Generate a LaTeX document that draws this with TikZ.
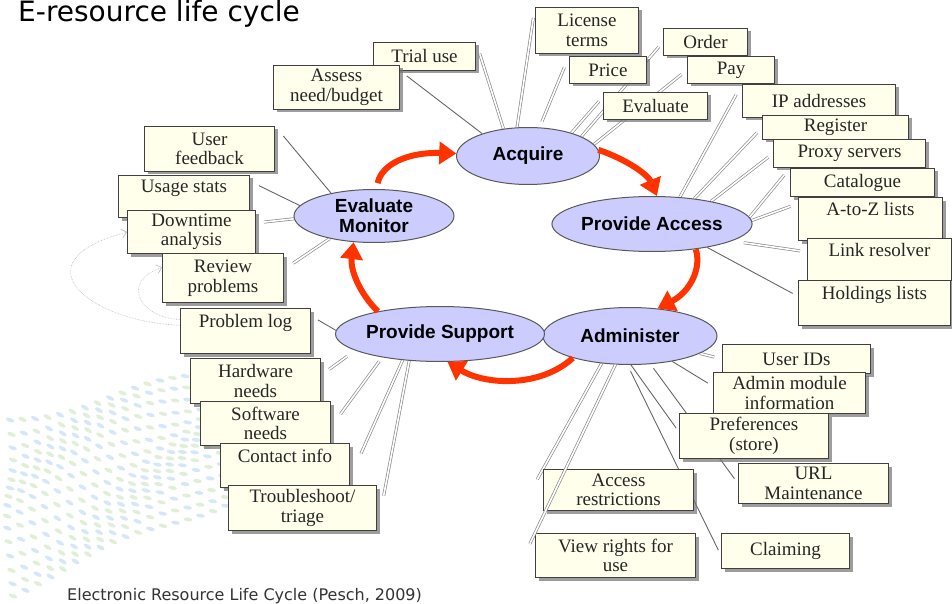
\documentclass[tikz,border=0pt]{standalone}
\usepackage{fontspec}
\setmainfont{Liberation Serif}
\newfontfamily\phasefont{Liberation Sans}
\newfontfamily\titlefont{DejaVu Sans}
\usetikzlibrary{positioning,shapes.geometric,arrows.meta,shadows,backgrounds}

\definecolor{boxfill}{RGB}{255,255,236}
\definecolor{phasefill}{RGB}{204,204,255}
\definecolor{cyclered}{RGB}{255,51,0}
\definecolor{dot0}{RGB}{214,232,247}
\definecolor{dot1}{RGB}{226,239,216}

\begin{document}
\begin{tikzpicture}[
    x=1pt, y=-1pt,
    phase/.style={ellipse, draw=black!65, fill=phasefill, line width=1pt, inner sep=0pt, align=center, font=\phasefont\bfseries\fontsize{19}{20}\selectfont},
    ebox/.style={rectangle, draw=black!75, fill=boxfill, line width=1pt, inner sep=1pt, align=center, anchor=north west, text=black!85, font=\fontsize{19}{19.5}\selectfont, drop shadow={shadow xshift=3pt, shadow yshift=-3pt, fill=black!55, opacity=.7}},
    spoke/.style={draw=black!60, line width=0.9pt},
    dspoke/.style={draw=black!45, line width=0.7pt, double=white, double distance=1.6pt},
    cyclearrow/.style={draw=cyclered, line width=6pt, -{Triangle[length=17pt,width=22pt]}},
    note/.style={draw=gray!55, line width=0.6pt, densely dotted, -{Straight Barb[length=5pt,width=9pt]}},
]
\useasboundingbox (0,0) rectangle (952,604);
\clip (0,0) rectangle (952,604);

% Title and source
\node[anchor=base west, inner sep=0pt, font=\titlefont\fontsize{28}{30}\selectfont] (title) at (18,21.5) {E-resource life cycle};
\node[anchor=base west, inner sep=0pt, font=\titlefont\fontsize{16}{17}\selectfont, text=black!80] (source) at (67,600) {Electronic Resource Life Cycle (Pesch, 2009)};

% The cycle
\node[phase, minimum width=143pt, minimum height=57pt] (acq) at (528,156) {Acquire};
\node[phase, minimum width=165pt, minimum height=55pt] (pacc) at (652,224) {Provide Access};
\node[phase, minimum width=174pt, minimum height=57pt] (adm) at (630,336) {Administer};
\node[phase, minimum width=170pt, minimum height=55pt] (psup) at (440,334) {Provide Support};
\node[phase, minimum width=160pt, minimum height=53pt] (evm) at (374,216) {Evaluate\\Monitor};

% Acquire tasks
\node[ebox, minimum width=102pt, minimum height=28pt] (trial) at (373,42) {Trial use};
\node[ebox, minimum width=126pt, minimum height=44pt] (assess) at (273,65) {Assess\\need/budget};
\node[ebox, minimum width=103pt, minimum height=46pt] (lic) at (535,7) {License\\terms};
\node[ebox, minimum width=77pt, minimum height=27pt] (price) at (569,56) {Price};
\node[ebox, minimum width=104pt, minimum height=27pt] (evb) at (603,92) {Evaluate};
\node[ebox, minimum width=84pt, minimum height=27pt] (order) at (663,28) {Order};
\node[ebox, minimum width=87pt, minimum height=27pt] (pay) at (687,56) {Pay};

% Access tasks
\node[ebox, minimum width=153pt, minimum height=33pt] (ip) at (742,84) {IP addresses};
\node[ebox, minimum width=146pt, minimum height=24pt] (reg) at (762,115) {Register};
\node[ebox, minimum width=152pt, minimum height=28pt] (proxy) at (773,139) {Proxy servers};
\node[ebox, minimum width=144pt, minimum height=28pt] (cat) at (790,168) {Catalogue};
\node[ebox, minimum width=144pt, minimum height=43pt] (atoz) at (798,197) {A-to-Z lists\\~};
\node[ebox, minimum width=144pt, minimum height=42pt] (link) at (807,238) {Link resolver\\~};
\node[ebox, minimum width=152pt, minimum height=45pt] (hold) at (798,280) {Holdings lists\\~};

% Evaluation tasks
\node[ebox, minimum width=130pt, minimum height=45pt] (uf) at (144,126) {User\\feedback};
\node[ebox, minimum width=131pt, minimum height=42pt] (us) at (118,175) {Usage stats\\~};
\node[ebox, minimum width=128pt, minimum height=43pt] (dt) at (127,210) {Downtime\\analysis};
\node[ebox, minimum width=121pt, minimum height=49pt] (rv) at (162,253) {Review\\problems};

% Support tasks
\node[ebox, minimum width=130pt, minimum height=45pt] (plog) at (180,308) {Problem log\\~};
\node[ebox, minimum width=130pt, minimum height=45pt] (hw) at (190,358) {Hardware\\needs};
\node[ebox, minimum width=130pt, minimum height=44pt] (sw) at (200,401) {Software\\needs};
\node[ebox, minimum width=129pt, minimum height=44pt] (ci) at (220,443) {Contact info\\~};
\node[ebox, minimum width=148pt, minimum height=45pt] (tr) at (228,485) {Troubleshoot/\\triage};

% Administration tasks
\node[ebox, minimum width=148pt, minimum height=29pt] (uid) at (722,344) {User IDs};
\node[ebox, minimum width=152pt, minimum height=41pt] (amod) at (713,372) {Admin module\\information};
\node[ebox, minimum width=149pt, minimum height=45pt] (pref) at (679,413) {Preferences\\(store)};
\node[ebox, minimum width=150pt, minimum height=40pt] (url) at (738,463) {URL\\Maintenance};
\node[ebox, minimum width=150pt, minimum height=41pt] (acc) at (543,469) {Access\\restrictions};
\node[ebox, minimum width=160pt, minimum height=44pt] (vr) at (535,533) {View rights for\\use};
\node[ebox, minimum width=128pt, minimum height=35pt] (claim) at (721,533) {Claiming};

\begin{pgfonlayer}{background}
% faint backdrop
\foreach \j in {0,...,19}{
  \foreach \i in {0,...,15}{
    \pgfmathsetmacro{\px}{10+\j*12.5+3*sin(\i*30)}
    \pgfmathsetmacro{\py}{420-\j*2.8+\i*(170-\j*2.5)/15+6*sin(\i*30+\j*22)}
    \pgfmathtruncatemacro{\k}{mod(\i+\j,2)}
    \fill[dot\k, rotate around={-20-12*sin(\j*18):(\px,\py)}] (\px,\py) ellipse (4.5pt and 2pt);
  }
}

% Acquire spokes
\draw[spoke, shorten >=8pt] (acq.154) -- (trial.-149);
\draw[dspoke, shorten >=12pt] (acq.132) -- (trial.north east);
\draw[dspoke, shorten >=11pt] (acq.111) -- (lic.north west);
\draw[dspoke, shorten <=6pt, shorten >=12pt] (acq.68) -- (price.north west);
\draw[dspoke, shorten >=6pt] (acq.28) -- (evb.170);
\draw[dspoke, shorten >=6pt] (acq.20) -- (order.west);
\draw[dspoke, shorten >=7pt] (acq.10) -- (pay.west);

% Access spokes
\draw[dspoke, shorten >=12pt] (pacc.44) -- (ip.north west);
\draw[dspoke, shorten >=7pt] (pacc.31) -- (reg.west);
\draw[dspoke, shorten >=6pt] (pacc.21) -- (proxy.west);
\draw[dspoke, shorten >=9pt] (pacc.4) -- (cat.north west);
\draw[dspoke, shorten >=8pt] (pacc.2) -- (atoz.168);
\draw[dspoke, shorten <=12pt, shorten >=7pt] (pacc.-12) -- (link.174);
\draw[spoke, shorten >=6pt] (pacc.-23) -- (hold.175);

% Administer spokes
\draw[dspoke, shorten >=8pt] (adm.-14) -- (uid.west);
\draw[spoke, shorten >=6pt] (adm.-31) -- (amod.175);
\draw[spoke, shorten >=5pt] (adm.-88) -- (pref.177);
\draw[spoke, shorten <=5pt, shorten >=6pt] (adm.-54) -- (url.west);
\draw[spoke, shorten <=7pt, shorten >=6pt] (adm.-95) -- (claim.-176);
\draw[dspoke, shorten >=-12pt] (adm.-136) -- (acc.north west);

% Support spokes
\draw[spoke, shorten >=8pt] (psup.178) -- (plog.13);
\draw[dspoke, shorten <=10pt, shorten >=10pt] (psup.-169) -- (hw.5);
\draw[dspoke, shorten <=5pt, shorten >=16pt] (psup.-158) -- (sw.-3);
\draw[dspoke, shorten >=27pt] (psup.-145) -- (ci.-11);
\draw[dspoke, shorten >=36pt] (psup.-139) -- (tr.south east);

% Evaluate spokes
\draw[spoke, shorten >=13pt] (evm.152) -- (uf.north east);
\draw[spoke, shorten >=10pt] (evm.172) -- (us.13);
\draw[dspoke, shorten >=8pt] (evm.182) -- (dt.8);
\draw[dspoke, shorten >=11pt] (evm.-153) -- (rv.8);
\end{pgfonlayer}

% crosses over the Access box
\draw[dspoke, shorten >=-12pt] (adm.-117) -- (vr.north west);

% Cycle arrows
\draw[cyclearrow, shorten <=6pt] (evm.85) .. controls (382,163) and (410,152) .. (acq.178);
\draw[cyclearrow] (acq.5) .. controls (628,160) and (648,175) .. (pacc.80);
\draw[cyclearrow] (pacc.-30) .. controls (702,268) and (690,292) .. (adm.45);
\draw[cyclearrow] (adm.-159) .. controls (540,388) and (485,385) .. (psup.-75);
\draw[cyclearrow] (psup.160) .. controls (362,296) and (350,272) .. (evm.-128);

% Feedback loops
\draw[note] (plog.175) .. controls (90,322) and (15,262) .. (dt.west);
\draw[note] (plog.170) .. controls (140,318) and (120,282) .. (rv.170);

\end{tikzpicture}
\end{document}
